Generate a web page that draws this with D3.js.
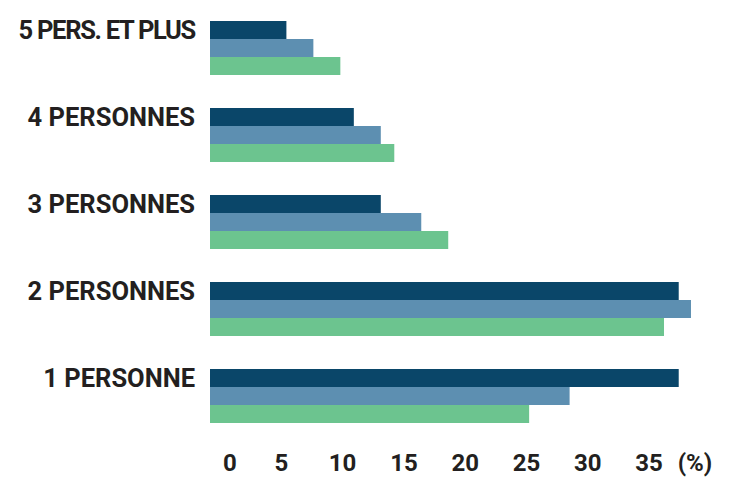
<!DOCTYPE html>
<html>
<head>
<meta charset="utf-8">
<script src="https://cdn.jsdelivr.net/npm/d3@7"></script>
<style>
  html, body { margin: 0; padding: 0; background: #ffffff; }
  svg { display: block; }
  text { font-family: Roboto, "Liberation Sans", sans-serif; font-weight: 700; fill: #231f20; }
</style>
</head>
<body>
<svg id="chart" width="729" height="477"></svg>
<script>
// Data (percent of households), categories top to bottom
const categories = ["5 PERS. ET PLUS", "4 PERSONNES", "3 PERSONNES", "2 PERSONNES", "1 PERSONNE"];
const seriesNames = ["serie1", "serie2", "serie3"];
const serie1 = [4.6, 10.1, 12.3, 36.6, 36.6];
const serie2 = [6.8, 12.3, 15.6, 37.6, 27.7];
const serie3 = [9.0, 13.4, 17.8, 35.4, 24.4];
const tickValues = [0, 5, 10, 15, 20, 25, 30, 35];
const unitLabel = "(%)";

const seriesValues = [serie1, serie2, serie3];
const colors = ["#0a4669", "#5d8fb1", "#6cc48f"];

const svg = d3.select("#chart");

const x = d3.scaleLinear().domain([0, 40]).range([230, 230 + 12.26 * 40]);
const barStart = x(0) - 20;

const y = d3.scaleBand().domain(categories).range([21, 423]).paddingInner(33 / 87).paddingOuter(0);
const ySub = d3.scaleBand().domain(seriesNames).range([0, y.bandwidth()]).padding(0);

const rows = categories.map((c, i) => ({
  cat: c,
  vals: seriesValues.map((s, j) => ({ name: seriesNames[j], v: s[i], color: colors[j] }))
}));

const g = svg.append("g");
const groups = g.selectAll("g.cat").data(rows).join("g")
  .attr("class", "cat")
  .attr("transform", d => `translate(0,${y(d.cat)})`);

groups.selectAll("rect").data(d => d.vals).join("rect")
  .attr("x", barStart)
  .attr("y", d => ySub(d.name))
  .attr("width", d => x(d.v) - barStart)
  .attr("height", ySub.bandwidth())
  .attr("fill", d => d.color);

// Category labels
groups.append("text")
  .attr("x", 195)
  .attr("y", 18)
  .attr("text-anchor", "end")
  .attr("font-size", 25.5)
  .attr("letter-spacing", d => d.cat.length > 12 ? -1.3 : 0)
  .text(d => d.cat);

// Tick labels
const axis = svg.append("g").attr("transform", "translate(0,471)");
axis.selectAll("text.tick").data(tickValues).join("text")
  .attr("class", "tick")
  .attr("x", d => d === 0 ? x(d) : x(d) - 10)
  .attr("text-anchor", "middle")
  .attr("font-size", 24)
  .text(d => d);
axis.append("text")
  .attr("x", 695)
  .attr("text-anchor", "middle")
  .attr("font-size", 24)
  .text(unitLabel);
</script>
</body>
</html>
